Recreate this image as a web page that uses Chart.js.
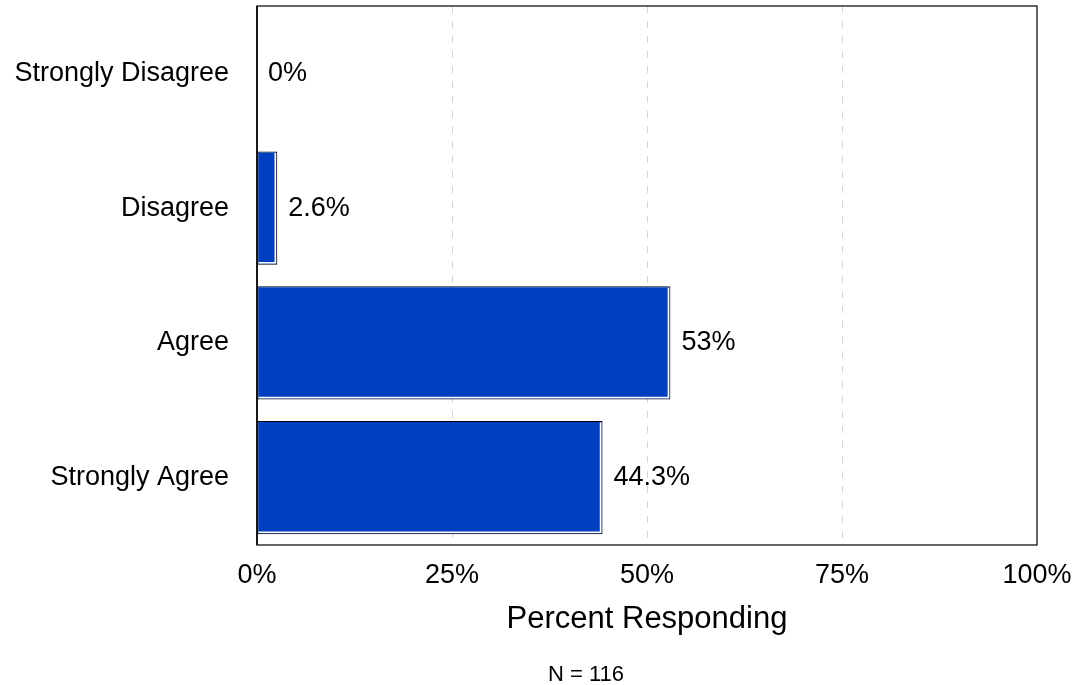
<!DOCTYPE html>
<html>
<head>
<meta charset="utf-8">
<script src="https://cdn.jsdelivr.net/npm/chart.js@4/dist/chart.umd.min.js"></script>
<style>
html,body{margin:0;padding:0;background:#fff;}
#wrap{width:1076px;height:685px;position:relative;}
</style>
</head>
<body>
<div id="wrap"><canvas id="c" width="1076" height="685"></canvas></div>
<script>
const categories = ["Strongly Disagree", "Disagree", "Agree", "Strongly Agree"];
const percentValues = [0, 2.6, 53, 44.3];
const xTickValues = [0, 25, 50, 75, 100];
const xTitle = "Percent Responding";
const footnote = "N = 116";

const FONT = "'Liberation Sans', Arial, sans-serif";

const framePlugin = {
  id: 'frame',
  beforeDatasetsDraw(chart) {
    const {ctx, chartArea: a} = chart;
    ctx.save();
    ctx.strokeStyle = '#000';
    ctx.lineWidth = 1.2;
    ctx.strokeRect(a.left, a.top, a.right - a.left, a.bottom - a.top);
    ctx.restore();
  },
  afterDatasetsDraw(chart) {
    const {ctx} = chart;
    const meta = chart.getDatasetMeta(0);
    ctx.save();
    meta.data.forEach((bar, i) => {
      const p = bar.getProps(['x', 'y', 'base', 'height'], true);
      const top = p.y - p.height / 2, bottom = p.y + p.height / 2;
      const w = p.x - p.base;
      if (w > 3) {
        ctx.strokeStyle = '#ffffff';
        ctx.lineWidth = 1.5;
        ctx.beginPath();
        ctx.moveTo(p.x - 2, top + 1.5);
        ctx.lineTo(p.x - 2, bottom - 2);
        ctx.lineTo(p.base + 1, bottom - 2);
        ctx.stroke();
      }
      ctx.fillStyle = '#000';
      ctx.font = "27px " + FONT;
      ctx.textAlign = 'left';
      ctx.textBaseline = 'middle';
      ctx.fillText(percentValues[i] + '%', p.x + 11, p.y);
    });
    const a = chart.chartArea;
    ctx.strokeStyle = '#000';
    ctx.lineWidth = 1.5;
    ctx.beginPath();
    ctx.moveTo(a.left, a.top);
    ctx.lineTo(a.left, a.bottom);
    ctx.stroke();
    ctx.restore();
  },
  afterDraw(chart) {
    const {ctx} = chart;
    ctx.save();
    ctx.fillStyle = '#000';
    ctx.font = "22px " + FONT;
    ctx.textAlign = 'center';
    ctx.textBaseline = 'middle';
    ctx.fillText(footnote, 586, 675);
    ctx.restore();
  }
};

new Chart(document.getElementById('c'), {
  type: 'bar',
  data: {
    labels: categories,
    datasets: [{
      data: percentValues,
      backgroundColor: '#0040c0',
      borderColor: '#000000',
      borderWidth: 1,
      borderSkipped: false,
      categoryPercentage: 0.84,
      barPercentage: 1.0
    }]
  },
  options: {
    indexAxis: 'y',
    responsive: false,
    animation: false,
    devicePixelRatio: 1,
    layout: {autoPadding: false, padding: {left: 0, right: 39, top: 6, bottom: 0}},
    plugins: {
      legend: {display: false},
      tooltip: {enabled: false}
    },
    scales: {
      x: {
        min: 0, max: 100,
        afterBuildTicks(scale) { scale.ticks = xTickValues.map(v => ({value: v})); },
        afterFit(scale) {
          scale.height = 140;
          scale.paddingLeft = 0; scale.paddingRight = 0;
          scale.paddingTop = 0; scale.paddingBottom = 0;
        },
        ticks: {
          callback: v => v + '%',
          color: '#000',
          font: {family: FONT, size: 27},
          padding: 14,
          maxRotation: 0
        },
        grid: {
          drawTicks: false,
          color: ctx => (ctx.tick && (ctx.tick.value === 0 || ctx.tick.value === 100)) ? 'rgba(0,0,0,0)' : '#d4d4d4',
          lineWidth: 1
        },
        border: {display: false, dash: [7, 8]},
        title: {
          display: true,
          text: xTitle,
          color: '#000',
          font: {family: FONT, size: 31},
          padding: {top: 8, bottom: 47}
        }
      },
      y: {
        afterFit(scale) {
          scale.width = 257;
          scale.paddingLeft = 0; scale.paddingRight = 0;
          scale.paddingTop = 0; scale.paddingBottom = 0;
        },
        ticks: {
          color: '#000',
          font: {family: FONT, size: 27},
          padding: 28
        },
        grid: {display: false, drawTicks: false},
        border: {display: false}
      }
    }
  },
  plugins: [framePlugin]
});
</script>
</body>
</html>
